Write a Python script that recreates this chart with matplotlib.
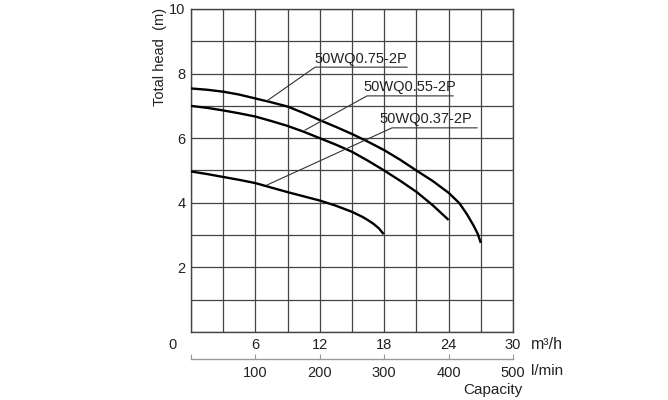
import numpy as np
import matplotlib
matplotlib.use("Agg")
import matplotlib.pyplot as plt

plt.rcParams['font.family'] = ['Liberation Sans', 'DejaVu Sans']

# pump curves, capacity in m3/h, head in m
q_075 = [0, 1.5, 3, 4.5, 6, 7.5, 9, 10.5, 12, 13.5, 15, 16.5, 18, 19.5, 21,
         22.5, 24, 25, 25.7, 26.3, 26.7, 27]
h_075 = [7.54, 7.50, 7.44, 7.35, 7.23, 7.11, 6.98, 6.78, 6.56, 6.35, 6.13,
         5.89, 5.63, 5.33, 5.0, 4.68, 4.31, 3.99, 3.65, 3.31, 3.05, 2.76]

q_055 = [0, 1.5, 3, 4.5, 6, 7.5, 9, 10.5, 12, 13.5, 15, 16.5, 18, 19.5, 21,
         22.5, 24]
h_055 = [7.0, 6.94, 6.86, 6.77, 6.67, 6.53, 6.38, 6.20, 6.0, 5.80, 5.58,
         5.30, 5.0, 4.68, 4.34, 3.93, 3.47]

q_037 = [0, 1.5, 3, 4.5, 6, 7.5, 9, 10.5, 12, 13.5, 15, 16, 16.5, 17, 17.5,
         17.95]
h_037 = [4.97, 4.89, 4.80, 4.71, 4.61, 4.47, 4.33, 4.20, 4.07, 3.91, 3.72,
         3.56, 3.46, 3.35, 3.21, 3.03]

names = ["50WQ0.75-2P", "50WQ0.55-2P", "50WQ0.37-2P"]

q_ticks = [6, 12, 18, 24, 30]
lpm_ticks = [100, 200, 300, 400, 500]
h_ticks = [2, 4, 6, 8, 10]

fig = plt.figure(figsize=(6.68, 4), dpi=100)
ax = fig.add_axes([191/668, 1-332/400, 322/668, 323/400])

for q, h in [(q_075, h_075), (q_055, h_055), (q_037, h_037)]:
    ax.plot(q, h, color='black', lw=1.7, solid_capstyle='butt',
            solid_joinstyle='round', zorder=3)

ax.set_xlim(0, 30)
ax.set_ylim(0, 10)
ax.set_xticks(q_ticks)
ax.set_xticks(np.arange(0, 31, 3), minor=True)
ax.set_yticks(h_ticks)
ax.set_yticks(np.arange(0, 11, 1), minor=True)
ax.grid(which='both', color='#444444', lw=0.9)
ax.tick_params(which='both', length=0)
ax.tick_params(axis='x', pad=4, labelsize=10.5, labelcolor='#222222')
ax.tick_params(axis='y', pad=4, labelsize=10.5, labelcolor='#222222')
for s in ax.spines.values():
    s.set_color('#444444')
    s.set_linewidth(1.0)

ax.text(-0.056, -0.04, "0", transform=ax.transAxes, ha='center', va='center',
        fontsize=10.5, color='#222222')
ax.text(1.055, -0.04, "m³/h", transform=ax.transAxes, ha='left', va='center',
        fontsize=11.5, color='#222222')

# second scale in l/min
sec = ax.secondary_xaxis(-0.0836, functions=(lambda x: x * 1000 / 60,
                                             lambda x: x * 60 / 1000))
sec.set_xticks([0] + lpm_ticks)
sec.set_xticklabels([""] + [str(v) for v in lpm_ticks])
sec.tick_params(direction='in', length=3.5, width=0.8, color='#999999',
                pad=5, labelsize=10.5, labelcolor='#222222')
sec.spines['bottom'].set_color('#999999')
sec.spines['bottom'].set_linewidth(1.0)
ax.text(1.055, -0.12, "l/min", transform=ax.transAxes, ha='left', va='center',
        fontsize=11, color='#222222')
ax.text(0.936, -0.18, "Capacity", transform=ax.transAxes, ha='center', va='center',
        fontsize=11, color='#222222')

fig.text(160/668, 1-57/400, "Total head  (m)", rotation=90, ha='center', va='center',
         fontsize=10.5, color='#222222')

# leader lines with labels
leaders = [
    ([7.18, 11.56, 20.13], [7.18, 8.20, 8.20], 15.85, 8.25),
    ([10.62, 16.4, 24.42], [6.25, 7.31, 7.31], 20.4, 7.36),
    ([7.08, 18.73, 26.65], [4.55, 6.32, 6.32], 21.9, 6.37),
]
for name, (lx, ly, tx, ty) in zip(names, leaders):
    ax.plot(lx, ly, color='#333333', lw=0.8, zorder=4)
    ax.text(tx, ty, name, ha='center', va='bottom', fontsize=10.5, color='#222222',
            zorder=5)

fig.savefig("out.png", dpi=100)
